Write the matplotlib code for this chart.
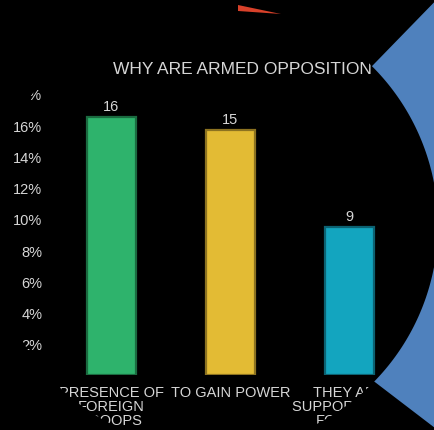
import numpy as np
import matplotlib
matplotlib.use('Agg')
import matplotlib.pyplot as plt
from matplotlib.path import Path
from matplotlib.patches import PathPatch, Polygon

plt.rcParams['font.family'] = ['Liberation Sans', 'DejaVu Sans']

# ---- data ----
categories = ["PRESENCE OF\nFOREIGN\nTROOPS", "TO GAIN POWER", "THEY ARE\nSUPPORTED BY\nFOREIGN"]
values = [16.5, 15.7, 9.5]
value_labels = ["16", "15", "9"]
yticks = [0, 2, 4, 6, 8, 10, 12, 14, 16, 18]
ytick_labels = ["0%", "2%", "4%", "6%", "8%", "10%", "12%", "14%", "16%", "18%"]
title = "WHY ARE ARMED OPPOSITION"

bar_colors = ["#2eb36c", "#e3bb34", "#13a5bf"]
edge_colors = ["#1b6b40", "#8c7220", "#0c6272"]
text_color = "#d6d6d6"

W, H = 435, 431
fig = plt.figure(figsize=(W / 100, H / 100), dpi=100, facecolor='black')

def fx(x):
    return x / W

def fy(y):
    return 1 - y / H

# axes: 0 at y=376px, 18% at y=95px; category spacing 119px
left_px, right_px = 52, 470
ax = fig.add_axes([fx(left_px), fy(376), (right_px - left_px) / W, (376 - 95) / H])
ax.set_facecolor('none')
x = np.arange(len(categories))
ax.bar(x, values, width=0.41, color=bar_colors, edgecolor=edge_colors, linewidth=1.6)
ax.set_xlim(-0.5, -0.5 + (right_px - left_px) / 119)
ax.set_ylim(0, 18)
ax.set_yticks(yticks)
ax.set_yticklabels(ytick_labels)
ax.set_xticks(x)
ax.set_xticklabels(categories, linespacing=1.0)
ax.tick_params(axis='both', length=0, colors=text_color, labelsize=10.5)
ax.tick_params(axis='y', pad=7)
ax.tick_params(axis='x', pad=7)
for s in ax.spines.values():
    s.set_visible(False)
for xi, v, lab in zip(x, values, value_labels):
    ax.annotate(lab, (xi, v), xytext=(0, 3), textcoords='offset points',
                ha='center', va='bottom', color=text_color, fontsize=10.5)

fig.text(fx(113), fy(70), title, ha='left', va='center', color=text_color, fontsize=12.5)

# ---- circular black mask with blue/red shapes outside ----
cx, cy, r = 214, 226, 224
theta = np.linspace(0, 2 * np.pi, 361)
circ = [(fx(cx + r * np.cos(t)), fy(cy + r * np.sin(t))) for t in theta]
rect = [(-0.2, -0.2), (1.2, -0.2), (1.2, 1.2), (-0.2, 1.2), (-0.2, -0.2)]
verts = rect + circ
codes = ([Path.MOVETO] + [Path.LINETO] * 3 + [Path.CLOSEPOLY] +
         [Path.MOVETO] + [Path.LINETO] * (len(circ) - 2) + [Path.CLOSEPOLY])
mask = PathPatch(Path(verts, codes), facecolor='black', edgecolor='none',
                 transform=fig.transFigure, zorder=5)
fig.add_artist(mask)

blue_pts = [(197, 247), (520, -85), (520, 494)]
blue = Polygon([(fx(a), fy(b)) for a, b in blue_pts], closed=True, facecolor='#4f81bd',
               edgecolor='none', transform=fig.transFigure, zorder=6)
fig.add_artist(blue)
blue.set_clip_path(mask)

red_pts = [(238, 6), (238, 12), (281, 15)]
red = Polygon([(fx(a), fy(b)) for a, b in red_pts], closed=True, facecolor='#d8412a',
              edgecolor='none', transform=fig.transFigure, zorder=7)
fig.add_artist(red)

fig.savefig('out.png', dpi=100, facecolor='black')
